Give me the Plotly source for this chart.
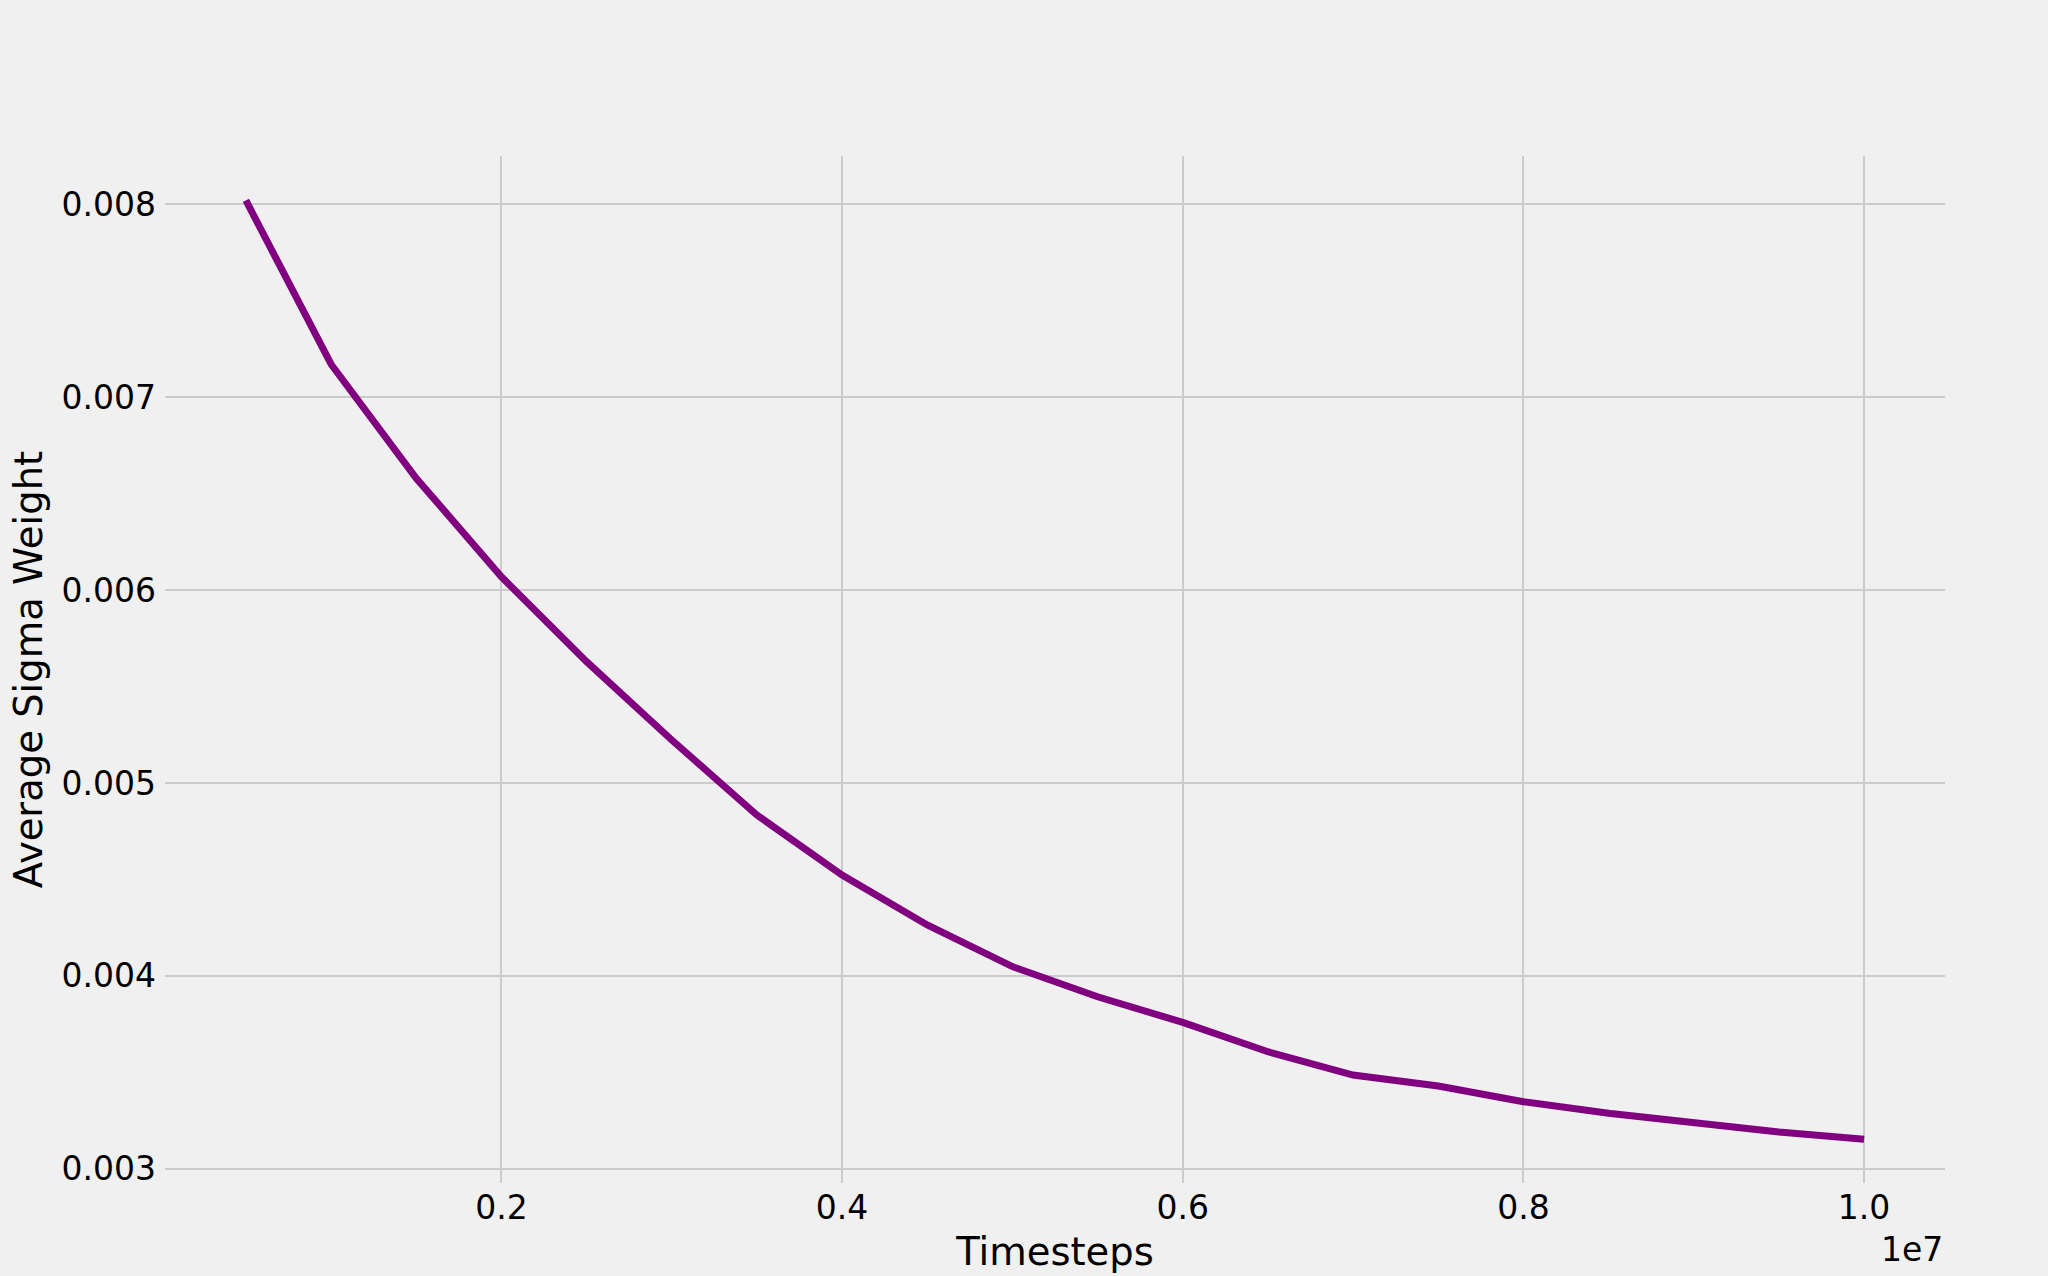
import plotly.graph_objects as go

timesteps = [500000, 1000000, 1500000, 2000000, 2500000, 3000000, 3500000, 4000000,
             4500000, 5000000, 5500000, 6000000, 6500000, 7000000, 7500000, 8000000,
             8500000, 9000000, 9500000, 10000000]
avg_sigma = [0.00802, 0.007171, 0.006580, 0.006069, 0.005629, 0.005223, 0.004834, 0.004523,
             0.004264, 0.004048, 0.003892, 0.003759, 0.003607, 0.003486, 0.003429, 0.003348,
             0.003288, 0.003236, 0.003191, 0.003153]

x_tickvals = [2000000, 4000000, 6000000, 8000000, 10000000]
x_ticktext = ["0.2", "0.4", "0.6", "0.8", "1.0"]
y_tickvals = [0.003, 0.004, 0.005, 0.006, 0.007, 0.008]
y_ticktext = ["0.003", "0.004", "0.005", "0.006", "0.007", "0.008"]

FONT = "DejaVu Sans"
BG = "#f0f0f0"
GRID = "#cbcbcb"

fig = go.Figure()
fig.add_trace(go.Scatter(
    x=timesteps, y=avg_sigma, mode="lines",
    line=dict(color="#800080", width=7),
    showlegend=False,
))

fig.update_layout(
    width=2048, height=1276,
    paper_bgcolor=BG, plot_bgcolor=BG,
    margin=dict(l=165, r=103, t=156, b=93, autoexpand=False),
    font=dict(family=FONT, size=33, color="black"),
)

fig.update_xaxes(
    range=[25000, 10475000],
    tickvals=x_tickvals, ticktext=x_ticktext,
    showgrid=True, gridcolor=GRID, gridwidth=2,
    zeroline=False, showline=False, ticks="",
    ticklabelstandoff=2,
    tickfont=dict(family=FONT, size=33, color="black"),
    title=dict(text="Timesteps", font=dict(family=FONT, size=38.5, color="black"), standoff=12),
)
fig.update_yaxes(
    range=[0.0029264, 0.0082504],
    tickvals=y_tickvals, ticktext=y_ticktext,
    showgrid=True, gridcolor=GRID, gridwidth=2,
    zeroline=False, showline=False, ticks="",
    ticklabelstandoff=8,
    tickfont=dict(family=FONT, size=33, color="black"),
    title=dict(text="Average Sigma Weight", font=dict(family=FONT, size=38.5, color="black"), standoff=7),
)

fig.add_annotation(
    text="1e7", xref="paper", yref="paper", x=1, y=0,
    xanchor="right", yanchor="top", yshift=-45, showarrow=False,
    font=dict(family=FONT, size=33, color="black"),
)

fig.write_html(
    "out.html",
    config={"displayModeBar": False},
    post_script="document.body.style.margin='0px';document.body.style.overflow='hidden';"
                "document.documentElement.style.overflow='hidden';",
)
